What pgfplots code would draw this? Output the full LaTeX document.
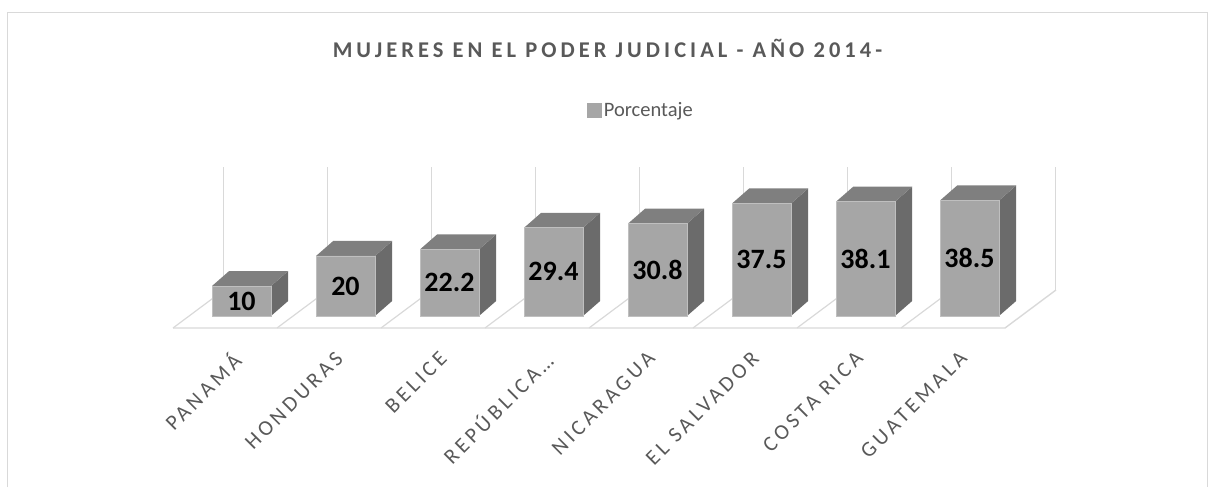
\documentclass[border=0pt]{standalone}
\usepackage{pgfplots}
\pgfplotsset{compat=1.18}
\usepackage{pgfplotstable}
\usepackage{fontspec}
\setmainfont{Carlito}
\newfontfamily\titlefont[LetterSpace=18]{Carlito}
\newfontfamily\tickfont[LetterSpace=17]{Carlito}
\definecolor{txt}{HTML}{595959}
\definecolor{frontc}{HTML}{A6A6A6}
\definecolor{topc}{HTML}{7F7F7F}
\definecolor{sidec}{HTML}{6B6B6B}
\definecolor{gridc}{HTML}{D9D9D9}
\definecolor{edgec}{HTML}{BFBFBF}

% front faces: x = centre of the front face (category index + offset), v = percentage
\pgfplotstableread{
x v
0.6585 10
1.6585 20
2.6585 22.2
3.6585 29.4
4.6585 30.8
5.6585 37.5
6.6585 38.1
7.6585 38.5
}\bars

\begin{document}
\begin{tikzpicture}
\begin{axis}[
  at={(0,0)}, anchor=south west,
  scale only axis, width=1215pt, height=487pt,
  xmin=-1.6635, xmax=10.0192, ymin=-57, ymax=105.3333,
  axis line style={draw=none}, tick style={draw=none},
  major tick length=0pt,
  ytick=\empty,
  xtick={0.55,1.55,...,7.55},
  xticklabels={PANAMÁ,HONDURAS,BELICE,REPÚBLICA…,NICARAGUA,EL SALVADOR,COSTA RICA,GUATEMALA},
  xticklabel style={rotate=45, anchor=north east, font=\tickfont\fontsize{21.5}{25}\selectfont, text=txt, inner sep=0pt},
  xticklabel shift=-137pt,
  title={MUJERES EN EL PODER JUDICIAL - AÑO 2014-},
  title style={at={(0.5,0.889)}, anchor=center, font=\titlefont\bfseries\fontsize{22.5}{26}\selectfont, text=txt},
  legend style={at={(0.4766,0.7741)}, anchor=west, draw=none, fill=none, inner sep=0pt,
    font=\fontsize{20.5}{25}\selectfont, text=txt, legend cell align=left},
]
% chart frame
\draw[gridc, line width=1pt] (rel axis cs:0.00617,0) -- (rel axis cs:0.00617,0.97433) -- (rel axis cs:0.99342,0.97433) -- (rel axis cs:0.99342,0);
% floor
\addplot[gridc, line width=1.4pt, forget plot] coordinates {(0,-4) (8,-4) (8.49,8.67)};
\addplot[gridc, line width=1.2pt, forget plot, unbounded coords=jump] coordinates {
(0,-4) (0.49,8.67) (nan,nan)
(1,-4) (1.49,8.67) (nan,nan)
(2,-4) (2.49,8.67) (nan,nan)
(3,-4) (3.49,8.67) (nan,nan)
(4,-4) (4.49,8.67) (nan,nan)
(5,-4) (5.49,8.67) (nan,nan)
(6,-4) (6.49,8.67) (nan,nan)
(7,-4) (7.49,8.67)
};
% back wall gridlines
\addplot[gridc, line width=1pt, forget plot, unbounded coords=jump] coordinates {
(0.49,8.67) (0.49,49.67) (nan,nan)
(1.49,8.67) (1.49,49.67) (nan,nan)
(2.49,8.67) (2.49,49.67) (nan,nan)
(3.49,8.67) (3.49,49.67) (nan,nan)
(4.49,8.67) (4.49,49.67) (nan,nan)
(5.49,8.67) (5.49,49.67) (nan,nan)
(6.49,8.67) (6.49,49.67) (nan,nan)
(7.49,8.67) (7.49,49.67) (nan,nan)
(8.49,8.67) (8.49,49.67)
};
% side faces
\addplot[fill=sidec, draw=none, forget plot] coordinates {(0.942,0) (0.942,10) (1.107,15) (1.107,5)};
\addplot[fill=sidec, draw=none, forget plot] coordinates {(1.942,0) (1.942,20) (2.107,25) (2.107,5)};
\addplot[fill=sidec, draw=none, forget plot] coordinates {(2.942,0) (2.942,22.2) (3.107,27.2) (3.107,5)};
\addplot[fill=sidec, draw=none, forget plot] coordinates {(3.942,0) (3.942,29.4) (4.107,34.4) (4.107,5)};
\addplot[fill=sidec, draw=none, forget plot] coordinates {(4.942,0) (4.942,30.8) (5.107,35.8) (5.107,5)};
\addplot[fill=sidec, draw=none, forget plot] coordinates {(5.942,0) (5.942,37.5) (6.107,42.5) (6.107,5)};
\addplot[fill=sidec, draw=none, forget plot] coordinates {(6.942,0) (6.942,38.1) (7.107,43.1) (7.107,5)};
\addplot[fill=sidec, draw=none, forget plot] coordinates {(7.942,0) (7.942,38.5) (8.107,43.5) (8.107,5)};
% top faces
\addplot[fill=topc, draw=none, forget plot] coordinates {(0.375,10) (0.942,10) (1.107,15) (0.540,15)};
\addplot[fill=topc, draw=none, forget plot] coordinates {(1.375,20) (1.942,20) (2.107,25) (1.540,25)};
\addplot[fill=topc, draw=none, forget plot] coordinates {(2.375,22.2) (2.942,22.2) (3.107,27.2) (2.540,27.2)};
\addplot[fill=topc, draw=none, forget plot] coordinates {(3.375,29.4) (3.942,29.4) (4.107,34.4) (3.540,34.4)};
\addplot[fill=topc, draw=none, forget plot] coordinates {(4.375,30.8) (4.942,30.8) (5.107,35.8) (4.540,35.8)};
\addplot[fill=topc, draw=none, forget plot] coordinates {(5.375,37.5) (5.942,37.5) (6.107,42.5) (5.540,42.5)};
\addplot[fill=topc, draw=none, forget plot] coordinates {(6.375,38.1) (6.942,38.1) (7.107,43.1) (6.540,43.1)};
\addplot[fill=topc, draw=none, forget plot] coordinates {(7.375,38.5) (7.942,38.5) (8.107,43.5) (7.540,43.5)};
% front faces
\addplot[ybar, bar width=0.567, bar shift=0pt, fill=frontc, draw=edgec, line width=0.6pt,
  legend image code/.code={\path (0pt,0pt); \fill[frontc] (8pt,-7pt) rectangle (22pt,7pt);}]
  table[x=x, y=v] {\bars};
\addlegendentry{Porcentaje}
% data labels
\addplot[draw=none, mark=none, forget plot, nodes near coords, point meta=explicit symbolic,
  nodes near coords style={anchor=center, font=\bfseries\fontsize{28}{32}\selectfont, text=black}]
  table[x=x, y expr=\thisrow{v}/2, meta=v] {\bars};
\end{axis}
\end{tikzpicture}
\end{document}
